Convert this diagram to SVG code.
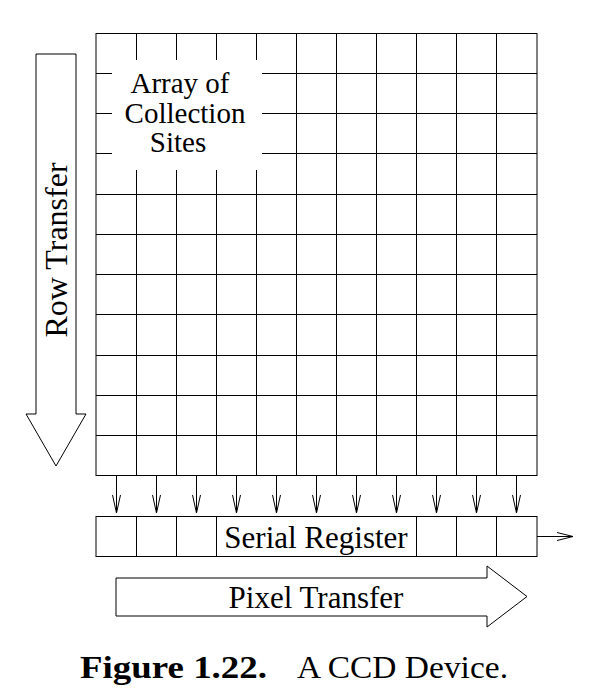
<svg xmlns="http://www.w3.org/2000/svg" width="613" height="700" viewBox="0 0 613 700">
<defs>
<style>
.ln{stroke:#000;stroke-width:1;fill:none}
.bx{stroke:#000;stroke-width:1;fill:#fff}
.hd{stroke:#000;stroke-width:1;fill:none;stroke-linejoin:miter}
.t{font-family:"Liberation Serif","Times New Roman",serif;fill:#000}
</style>
</defs>
<rect width="613" height="700" fill="#fff"/>
<g id="array">
<rect class="ln" x="96" y="33.5" width="441" height="442"/>
<path class="ln" d="M136.5 33.5V475.5M176.5 33.5V475.5M216.5 33.5V475.5M256.5 33.5V475.5M296.5 33.5V475.5M336.5 33.5V475.5M376.5 33.5V475.5M416.5 33.5V475.5M456.5 33.5V475.5M496.5 33.5V475.5"/>
<path class="ln" d="M96 73.5H537M96 113.5H537M96 153.5H537M96 194.5H537M96 234.5H537M96 274.5H537M96 314.5H537M96 355.5H537M96 395.5H537M96 435.5H537"/>
<rect x="112" y="60" width="150" height="110" fill="#fff"/>
<text class="t" font-size="29" text-anchor="middle"><tspan x="180" y="93">Array of</tspan><tspan x="185" y="123">Collection</tspan><tspan x="178" y="152">Sites</tspan></text>
</g>
<g id="row-transfer">
<polygon class="bx" points="36,54 76,54 76,414 86,414 56,466 26,414 36,414"/>
<text class="t" font-size="32" text-anchor="middle" transform="translate(67,250) rotate(-90)">Row Transfer</text>
</g>
<g id="serial-register">
<rect class="ln" x="96" y="516.5" width="441" height="40"/>
<path class="ln" d="M136.5 516.5V556.5M176.5 516.5V556.5M216.5 516.5V556.5M416.5 516.5V556.5M456.5 516.5V556.5M496.5 516.5V556.5"/>
<text class="t" font-size="31" x="316" y="548" text-anchor="middle">Serial Register</text>
</g>
<g id="pixel-transfer">
<polygon class="bx" points="116,578 487,578 487,566 527,596.5 487,627 487,616 116,616"/>
<text class="t" font-size="31" x="316" y="608" text-anchor="middle">Pixel Transfer</text>
</g>
<g id="connectors">
<path class="ln" d="M116.5 476V513M156.5 476V513M196.5 476V513M236.5 476V513M276.5 476V513M316.5 476V513M356.5 476V513M396.5 476V513M436.5 476V513M476.5 476V513M516.5 476V513"/>
<path class="hd" d="M112.5 495L116.5 513L120.5 495M152.5 495L156.5 513L160.5 495M192.5 495L196.5 513L200.5 495M232.5 495L236.5 513L240.5 495M272.5 495L276.5 513L280.5 495M312.5 495L316.5 513L320.5 495M352.5 495L356.5 513L360.5 495M392.5 495L396.5 513L400.5 495M432.5 495L436.5 513L440.5 495M472.5 495L476.5 513L480.5 495M512.5 495L516.5 513L520.5 495"/>
<path class="ln" d="M537 536.5H573"/>
<path class="hd" d="M557 532.5L573 536.5L557 540.5"/>
</g>
<g id="caption">
<text class="t" font-size="31" y="678"><tspan x="80" font-weight="bold" textLength="187" lengthAdjust="spacingAndGlyphs">Figure 1.22.</tspan><tspan x="297" textLength="211" lengthAdjust="spacingAndGlyphs">A CCD Device.</tspan></text>
</g>
</svg>
